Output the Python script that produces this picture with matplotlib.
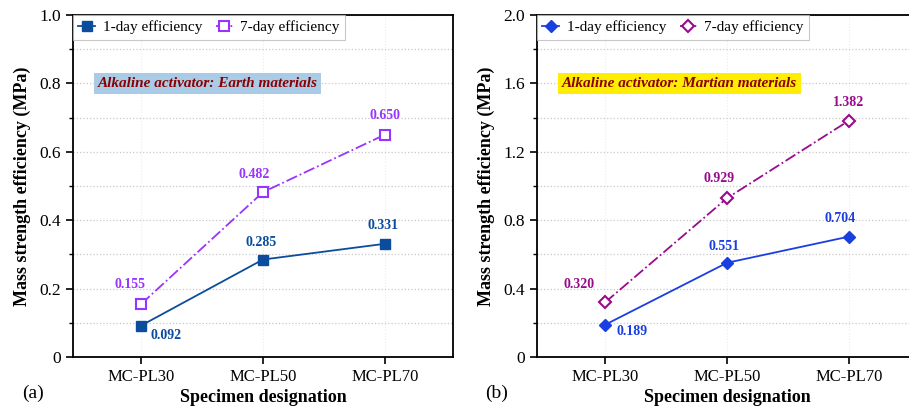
import matplotlib
matplotlib.use("Agg")
import matplotlib.pyplot as plt
from matplotlib.ticker import MultipleLocator

plt.rcParams["font.family"] = ["Liberation Serif", "DejaVu Serif"]
plt.rcParams["mathtext.fontset"] = "stix"

specimens = ["MC-PL30", "MC-PL50", "MC-PL70"]

# (a) Earth materials
earth_1day = [0.092, 0.285, 0.331]
earth_7day = [0.155, 0.482, 0.650]

# (b) Martian materials
mars_1day = [0.189, 0.551, 0.704]
mars_7day = [0.320, 0.929, 1.382]

fig = plt.figure(figsize=(9.09, 4.12), dpi=100)
ax_a = fig.add_axes([0.0803, 0.1335, 0.418, 0.830])
ax_b = fig.add_axes([0.5908, 0.1335, 0.418, 0.830])


def setup(ax, ymax, major, minor):
    ax.set_xlim(-0.56, 2.56)
    ax.set_ylim(0, ymax)
    ax.set_xticks(range(len(specimens)))
    ax.set_xticklabels(specimens, fontsize=12)
    ax.yaxis.set_major_locator(MultipleLocator(major))
    ax.yaxis.set_minor_locator(MultipleLocator(minor))
    ax.yaxis.set_major_formatter(lambda v, p: "0" if v == 0 else f"{v:.1f}")
    ax.tick_params(axis="y", labelsize=12.5, direction="out", length=5, width=1.2)
    ax.tick_params(axis="y", which="minor", direction="out", length=3, width=1.0)
    ax.tick_params(axis="x", direction="out", length=5, width=1.2)
    ax.grid(which="both", axis="y", linestyle=":", color="#c8c8c8", linewidth=0.9)
    ax.grid(which="major", axis="x", linestyle=":", color="#ececec", linewidth=0.8)
    for s in ax.spines.values():
        s.set_linewidth(1.3)
    ax.set_xlabel("Specimen designation", fontsize=13, fontweight="bold", labelpad=3)
    ax.set_ylabel("Mass strength efficiency (MPa)", fontsize=13, fontweight="bold",
                  labelpad=6)
    ax.set_axisbelow(True)


def draw(ax, d1, d7, c1, c7, m, ms, offs1, offs7):
    x = range(len(d1))
    ax.plot(x, d1, "-", color=c1, marker=m, markersize=ms, linewidth=1.3,
            label="1-day efficiency")
    ax.plot(x, d7, "-.", color=c7, marker=m, markersize=ms, linewidth=1.3,
            markerfacecolor="white", markeredgewidth=1.5, label="7-day efficiency")
    for xi, v, o in zip(x, d1, offs1):
        ax.annotate(f"{v:.3f}", (xi, v), xytext=o, textcoords="offset points",
                    ha="center", va="center", color=c1, fontsize=10, fontweight="bold")
    for xi, v, o in zip(x, d7, offs7):
        ax.annotate(f"{v:.3f}", (xi, v), xytext=o, textcoords="offset points",
                    ha="center", va="center", color=c7, fontsize=10, fontweight="bold")
    leg = ax.legend(loc="upper left", ncol=2, fontsize=11, frameon=True, fancybox=False,
                    borderaxespad=0.0, handlelength=1.1, columnspacing=0.9,
                    handletextpad=0.5, borderpad=0.35)
    leg.get_frame().set_edgecolor("#bbbbbb")
    leg.get_frame().set_linewidth(0.8)


setup(ax_a, 1.0, 0.2, 0.1)
draw(ax_a, earth_1day, earth_7day, "#0b4d9c", "#9933ff", "s", 7,
     [(18, -7), (-1.5, 12), (-1, 13)], [(-8, 14), (-6, 12.5), (0, 14)])
ax_a.text(-0.36, 0.80, "Alkaline activator: Earth materials", transform=ax_a.transData,
          fontsize=11, fontweight="bold", fontstyle="italic", color="#8b0000",
          va="center", ha="left",
          bbox=dict(boxstyle="square,pad=0.25", facecolor="#a9cbe6", edgecolor="none"))

setup(ax_b, 2.0, 0.4, 0.2)
draw(ax_b, mars_1day, mars_7day, "#1a3fe0", "#9a0a8c", "D", 6.5,
     [(19, -5), (-2, 12), (-6, 13)], [(-19, 13), (-6, 14), (0, 13)])
ax_b.text(-0.355, 1.60, "Alkaline activator: Martian materials", transform=ax_b.transData,
          fontsize=11, fontweight="bold", fontstyle="italic", color="#8b0000",
          va="center", ha="left",
          bbox=dict(boxstyle="square,pad=0.25", facecolor="#ffee00", edgecolor="none"))

fig.text(0.024, 0.035, "(a)", fontsize=14)
fig.text(0.534, 0.035, "(b)", fontsize=14)

fig.savefig("out.png", dpi=100)
